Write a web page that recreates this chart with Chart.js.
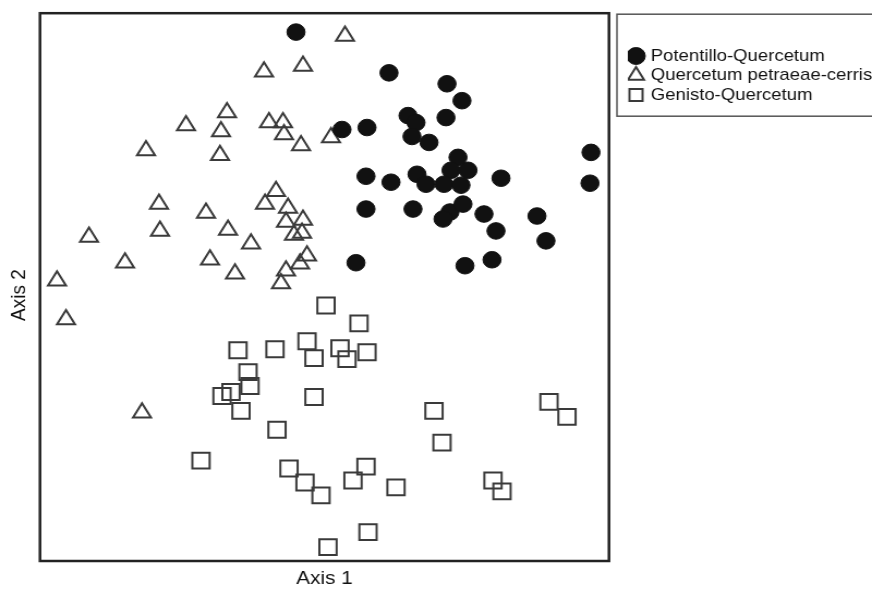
<!DOCTYPE html>
<html>
<head>
<meta charset="utf-8">
<title>Ordination</title>
<script src="https://cdn.jsdelivr.net/npm/chart.js@4.4.1/dist/chart.umd.min.js"></script>
<style>
  html, body { margin: 0; padding: 0; background: #fff; }
</style>
</head>
<body>
<!-- the source figure is a little wider than tall, so the 800px canvas is shown at 872px -->
<canvas id="chart" width="800" height="590" style="display:block;width:872px;height:590px"></canvas>
<script>
// ordination scores (no ticks on the axes, arbitrary units)
var seriesNames = ["Potentillo-Quercetum", "Quercetum petraeae-cerris", "Genisto-Quercetum"];

var potentilloX = [256, 349, 407, 422, 368, 406, 376, 302, 327, 372, 389, 418, 551, 326, 351, 377, 411, 428,
                   386, 404, 421, 461, 550, 326, 373, 410, 403, 423, 444, 497, 456, 506, 452, 425, 316];
var potentilloY = [532, 491, 480, 463, 448, 446, 441, 434, 436, 427, 421, 406, 411, 387, 381, 389, 393, 393,
                   379, 379, 378, 385, 380, 354, 354, 351, 344, 359, 349, 347, 332, 322, 303, 297, 300];

var petraeaeX = [305, 224, 263, 187, 146, 181, 229, 243, 244, 261, 291, 106, 180, 236, 119, 166, 225, 248,
                 120, 188, 246, 263, 254, 262, 49, 211, 85, 170, 267, 260, 195, 246, 241, 17, 26, 102];
var petraeaeY = [528, 492, 498, 451, 438, 432, 441, 441, 429, 418, 426, 413, 408, 372, 359, 350, 359, 355,
                 332, 333, 341, 343, 328, 330, 326, 319, 300, 303, 307, 299, 289, 292, 279, 282, 243, 149];

var genistoX = [286, 319, 198, 235, 267, 300, 327, 274, 307, 208, 210, 191, 182, 201, 274, 237,
                161, 249, 265, 281, 313, 326, 356, 328, 288, 394, 402, 509, 527, 453, 462];
var genistoY = [257, 239, 212, 213, 221, 214, 210, 204, 203, 190, 176, 170, 166, 151, 165, 132,
                101, 93, 79, 66, 81, 95, 74, 29, 14, 151, 119, 160, 145, 81, 70];

function toPoints(xs, ys) {
    var pts = [];
    for (let i = 0; i < xs.length; i++) {
        pts.push({ x: xs[i], y: ys[i] });
    }
    return pts;
}

var fontFamily = "'Liberation Sans', Arial, sans-serif";

// plot frame and the box round the legend
var framePlugin = {
    id: 'frame',
    afterDraw: function(chart) {
        var ctx = chart.ctx;
        var a = chart.chartArea;
        var lg = chart.legend;
        ctx.save();
        ctx.strokeStyle = '#222';
        ctx.lineWidth = 2.5;
        ctx.strokeRect(a.left, a.top, a.right - a.left, a.bottom - a.top);
        ctx.strokeStyle = '#555';
        ctx.lineWidth = 1.5;
        ctx.strokeRect(lg.left - 10, a.top + 1, 300, 102);
        ctx.restore();
    }
};

var ctx1 = document.getElementById("chart").getContext("2d");

new Chart(ctx1, {
    type: "scatter",
    data: {
        datasets: [{
            label: seriesNames[0],
            data: toPoints(potentilloX, potentilloY),
            pointStyle: 'circle',
            pointRadius: 8.3,
            backgroundColor: '#111',
            borderColor: '#111',
            borderWidth: 1
        }, {
            label: seriesNames[1],
            data: toPoints(petraeaeX, petraeaeY),
            pointStyle: 'triangle',
            pointRadius: 9.5,
            backgroundColor: 'rgba(255,255,255,0)',
            borderColor: '#3a3a3a',
            borderWidth: 2
        }, {
            label: seriesNames[2],
            data: toPoints(genistoX, genistoY),
            pointStyle: 'rect',
            pointRadius: 11.2,
            backgroundColor: 'rgba(255,255,255,0)',
            borderColor: '#3a3a3a',
            borderWidth: 2
        }]
    },
    options: {
        responsive: false,
        animation: false,
        layout: {
            padding: { top: 10, left: 0, right: 0, bottom: 0 }
        },
        scales: {
            x: {
                type: 'linear',
                min: 0,
                max: 569,
                ticks: { display: false },
                grid: { display: false },
                border: { display: false },
                title: {
                    display: true,
                    text: 'Axis 1',
                    color: '#111',
                    font: { family: fontFamily, size: 19 },
                    padding: { top: 0, bottom: 0 }
                },
                afterFit: function(scale) { scale.height = 29; }
            },
            y: {
                type: 'linear',
                position: 'left',
                min: 0,
                max: 551,
                ticks: { display: false },
                grid: { display: false },
                border: { display: false },
                title: {
                    display: true,
                    // trailing spaces nudge the label a bit below the middle, as in the figure
                    text: 'Axis 2   ',
                    color: '#111',
                    font: { family: fontFamily, size: 19 },
                    padding: { top: 6, bottom: 0 }
                },
                afterFit: function(scale) { scale.width = 36.7; }
            },
            // empty axis, only keeps a gap between plot and legend
            gap: {
                type: 'linear',
                position: 'right',
                display: true,
                ticks: { display: false },
                grid: { display: false },
                border: { display: false },
                afterFit: function(scale) { scale.width = 17.3; }
            }
        },
        plugins: {
            tooltip: { enabled: false },
            legend: {
                position: 'right',
                align: 'start',
                maxWidth: 224,
                title: {
                    display: true,
                    text: ' ',
                    font: { size: 10 },
                    padding: { top: 23, bottom: 0 }
                },
                labels: {
                    usePointStyle: true,
                    boxWidth: 10,
                    boxHeight: 12,
                    padding: 2.5,
                    color: '#111',
                    font: { family: fontFamily, size: 17 }
                }
            }
        }
    },
    plugins: [framePlugin]
});
</script>
</body>
</html>
